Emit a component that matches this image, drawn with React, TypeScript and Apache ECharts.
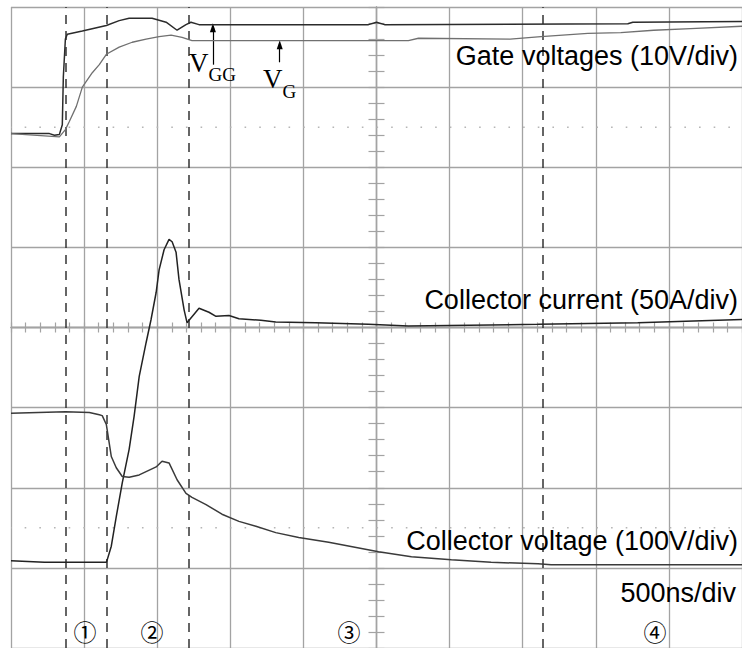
import React, { useEffect, useRef } from "react";
import * as echarts from "echarts";

// Time in ns relative to the screen centre (500 ns/div); levels in screen divisions (centre = 0)
const VGG_T = [-2500, -2237, -2203, -2169, -2149, -2142, -2128, -2115, -2012, -1848, -1760, -1692, -1535, -1439, -1364, -1303, -1269, -1214, -55, 0, 55, 1719, 1753, 2500];
const VGG_Y = [2.42, 2.42, 2.40, 2.41, 2.53, 3.13, 3.60, 3.66, 3.70, 3.77, 3.83, 3.86, 3.86, 3.81, 3.71, 3.78, 3.81, 3.78, 3.78, 3.81, 3.78, 3.79, 3.81, 3.82];

const VG_T = [-2500, -2169, -2128, -2101, -2053, -2012, -1944, -1896, -1848, -1760, -1671, -1576, -1487, -1405, -1330, -1262, -532, 218, 287, 914, 1125, 1446, 1671, 1896, 2149, 2500];
const VG_Y = [2.42, 2.38, 2.47, 2.57, 2.76, 3.00, 3.18, 3.28, 3.41, 3.50, 3.56, 3.60, 3.63, 3.65, 3.62, 3.58, 3.58, 3.58, 3.61, 3.60, 3.63, 3.67, 3.68, 3.71, 3.73, 3.76];

const IC_T = [-2500, -2271, -2169, -1848, -1842, -1814, -1780, -1739, -1692, -1658, -1623, -1576, -1542, -1507, -1487, -1453, -1419, -1398, -1371, -1351, -1316, -1296, -1214, -1146, -1098, -1009, -941, -791, -689, -416, -55, 218, 1105, 1787, 2500];
const IC_Y = [-2.91, -2.93, -2.93, -2.93, -2.90, -2.73, -2.36, -1.94, -1.52, -1.11, -0.61, -0.19, 0.10, 0.44, 0.72, 0.97, 1.10, 1.07, 0.94, 0.60, 0.22, 0.06, 0.24, 0.19, 0.14, 0.15, 0.11, 0.09, 0.07, 0.06, 0.04, 0.02, 0.04, 0.06, 0.10];

const VCE_T = [-2500, -2128, -1964, -1896, -1876, -1848, -1814, -1780, -1739, -1692, -1623, -1507, -1467, -1419, -1364, -1303, -1262, -1166, -1057, -941, -825, -689, -532, -327, 14, 239, 512, 784, 1105, 1194, 2500];
const VCE_Y = [-1.07, -1.05, -1.06, -1.09, -1.10, -1.21, -1.61, -1.75, -1.86, -1.87, -1.84, -1.74, -1.67, -1.69, -1.90, -2.07, -2.12, -2.21, -2.33, -2.42, -2.48, -2.56, -2.62, -2.68, -2.80, -2.86, -2.90, -2.93, -2.95, -2.96, -2.96];

const PHASE_T = [-2128, -1846, -1282, 1139];
const REF_LEVELS = [2.5, -2.5];
const ARROW_T = [-1119, -662];
const ARROW_FROM = [3.28, 3.31];
const ARROW_TO = [3.74, 3.53];

const CHANNEL_LABELS = ["Gate voltages (10V/div)", "Collector current (50A/div)", "Collector voltage (100V/div)", "500ns/div"];
const PHASE_LABELS = ["①", "②", "③", "④"];

export default function App() {
  const ref = useRef<HTMLDivElement>(null);
  useEffect(() => {
    const chart = echarts.init(ref.current!, null, { renderer: "svg" });
    const gridColor = "#a3a3a3";
    const pair = (t: number[], y: number[]) => t.map((v, i) => [v, y[i]]);
    const mkX = (inside: boolean, split: boolean) => ({
      type: "value",
      position: "bottom",
      min: -2500,
      max: 2500,
      interval: 500,
      axisLabel: { show: false },
      splitLine: { show: split, lineStyle: { color: gridColor, width: 1.3 } },
      axisLine: { show: true, onZero: true, onZeroAxisIndex: 0, lineStyle: { color: gridColor, width: 1.3 } },
      axisTick: { show: true, inside, length: 5, lineStyle: { color: gridColor, width: 1.2 } },
      minorTick: { show: true, splitNumber: 5, length: 5, lineStyle: { color: gridColor, width: 1.2 } },
    });
    const mkY = (inside: boolean, split: boolean) => ({
      type: "value",
      position: "left",
      min: -4,
      max: 4,
      interval: 1,
      axisLabel: { show: false },
      splitLine: { show: split, lineStyle: { color: gridColor, width: 1.3 } },
      axisLine: { show: true, onZero: true, onZeroAxisIndex: 0, lineStyle: { color: gridColor, width: 1.3 } },
      axisTick: { show: true, inside, length: 8, lineStyle: { color: gridColor, width: 1.2 } },
      minorTick: { show: true, splitNumber: 5, length: 8, lineStyle: { color: gridColor, width: 1.2 } },
    });
    const trace = (name: string, t: number[], y: number[], color: string, width: number) => ({
      type: "line",
      name,
      data: pair(t, y),
      symbol: "none",
      showSymbol: false,
      lineStyle: { color, width },
      z: 5,
    });
    const sans = "'Liberation Sans', Arial, Helvetica, sans-serif";
    const serif = "'Liberation Serif', 'Times New Roman', serif";
    const labelY = [56, 300, 541, 593];
    const labelX = [738, 738, 738, 736];
    const phaseX = [85, 152, 349, 655];
    const graphic: any[] = [];
    CHANNEL_LABELS.forEach((txt, i) => {
      graphic.push({
        type: "text",
        x: labelX[i],
        y: labelY[i],
        z: 20,
        style: { text: txt, fontSize: 27, fontFamily: sans, fill: "#000", align: "right", verticalAlign: "middle" },
      });
    });
    PHASE_LABELS.forEach((txt, i) => {
      graphic.push({
        type: "text",
        x: phaseX[i],
        y: 631,
        z: 20,
        style: { text: txt, fontSize: 23, fontFamily: "'Noto Sans CJK JP', 'Noto Sans CJK SC', sans-serif", fill: "#000", align: "center", verticalAlign: "middle" },
      });
    });
    graphic.push(
      { type: "text", x: 189, y: 62.5, z: 20, style: { text: "V", fontSize: 27, fontFamily: serif, fill: "#000", align: "left", verticalAlign: "middle" } },
      { type: "text", x: 208.5, y: 74.5, z: 20, style: { text: "GG", fontSize: 19, fontFamily: serif, fill: "#000", align: "left", verticalAlign: "middle" } },
      { type: "text", x: 263, y: 79, z: 20, style: { text: "V", fontSize: 27, fontFamily: serif, fill: "#000", align: "left", verticalAlign: "middle" } },
      { type: "text", x: 282.5, y: 91, z: 20, style: { text: "G", fontSize: 19, fontFamily: serif, fill: "#000", align: "left", verticalAlign: "middle" } }
    );

    chart.setOption({
      animation: false,
      backgroundColor: "#fff",
      grid: { left: 11, top: 7, width: 733.3, height: 641, containLabel: false },
      xAxis: [mkX(false, true), mkX(true, false)],
      yAxis: [mkY(false, true), mkY(true, false)],
      graphic,
      series: [
        {
          ...trace("V_GG", VGG_T, VGG_Y, "#2b2b2b", 1.5),
          markLine: {
            silent: true,
            symbol: ["none", "triangle"],
            symbolSize: [6, 9],
            label: { show: false },
            lineStyle: { type: "solid", color: "#000", width: 1.2 },
            data: ARROW_T.map((t, i) => [{ coord: [t, ARROW_FROM[i]] }, { coord: [t, ARROW_TO[i]] }]),
          },
        },
        trace("V_G", VG_T, VG_Y, "#707070", 1.3),
        trace("Ic", IC_T, IC_Y, "#222", 1.5),
        trace("Vce", VCE_T, VCE_Y, "#3a3a3a", 1.5),
        ...REF_LEVELS.map((lv, i) => ({
          type: "line",
          name: "ref" + i,
          data: [[-2500, lv], [2500, lv]],
          symbol: "none",
          z: 3,
          lineStyle: { color: "#b5b5b5", width: 1.6, type: [1.6, 13.06], dashOffset: 0.8 },
          markLine:
            i === 0
              ? {
                  silent: true,
                  symbol: ["none", "none"],
                  label: { show: false },
                  lineStyle: { type: [9, 7], color: "#333", width: 1.5 },
                  data: PHASE_T.map((t) => ({ xAxis: t })),
                }
              : undefined,
        })),
      ],
    });
    return () => chart.dispose();
  }, []);
  return <div ref={ref} style={{ position: "absolute", left: 0, top: 0, width: 742, height: 648, background: "#fff" }} />;
}
